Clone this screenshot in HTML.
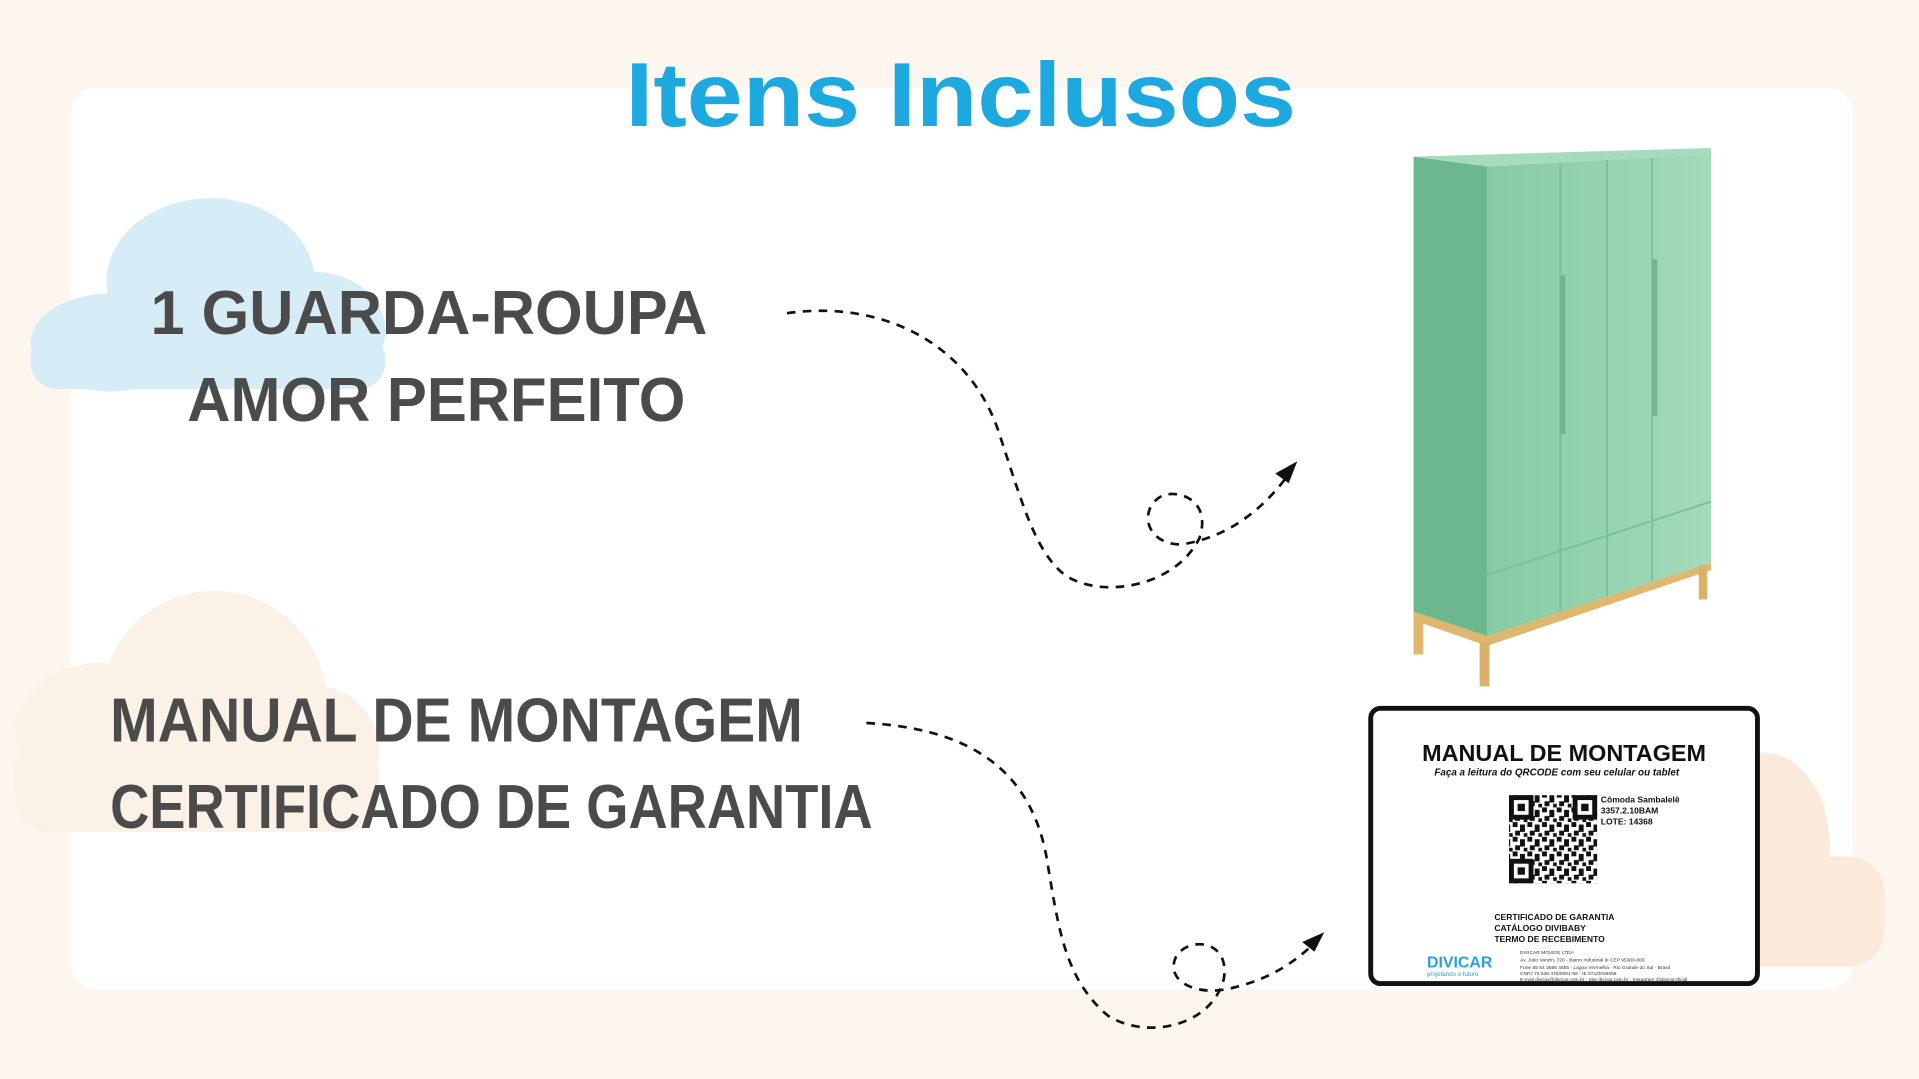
<!DOCTYPE html>
<html><head><meta charset="utf-8"><style>
html,body{margin:0;padding:0;background:#fdf6ef;}
svg{display:block}
</style></head><body>
<svg width="1919" height="1079" viewBox="0 0 1568 882" preserveAspectRatio="none" xmlns="http://www.w3.org/2000/svg">
<defs>
<pattern id="qr" x="0" y="0" width="12" height="12" patternUnits="userSpaceOnUse">
<rect width="12" height="12" fill="#fff"/>
<rect x="0" y="0" width="4" height="4" fill="#111"/>
<rect x="6" y="2" width="4" height="6" fill="#111"/>
<rect x="2" y="7" width="4" height="4" fill="#111"/>
<rect x="9" y="9" width="3" height="3" fill="#111"/>
</pattern>
<linearGradient id="front" x1="0" x2="1" y1="0" y2="0">
<stop offset="0" stop-color="#86cba3"/><stop offset="1" stop-color="#a3dabb"/>
</linearGradient>
</defs>
<rect width="1568" height="882" fill="#fdf6ef"/>
<rect x="58" y="72" width="1456" height="736" rx="20" fill="#ffffff"/>
<g fill="#d6edf8">
<ellipse cx="172" cy="230" rx="85" ry="68"/>
<ellipse cx="90" cy="280" rx="65" ry="40"/>
<ellipse cx="255" cy="270" rx="60" ry="48"/>
<rect x="25" y="272" width="290" height="46" rx="22"/>
</g>
<g fill="#fcf1e7">
<ellipse cx="175" cy="575" rx="92" ry="92"/>
<ellipse cx="80" cy="600" rx="68" ry="58"/>
<ellipse cx="255" cy="615" rx="55" ry="55"/>
<rect x="12" y="600" width="298" height="80" rx="30"/>
</g>
<g fill="#fbeadb">
<ellipse cx="1440" cy="690" rx="55" ry="75"/>
<ellipse cx="1500" cy="745" rx="40" ry="45"/>
<rect x="1400" y="700" width="140" height="90" rx="30"/>
</g>
<text x="785" y="103" text-anchor="middle" font-family="Liberation Sans, sans-serif" font-weight="bold" font-size="74" fill="#1da8e0" textLength="548" lengthAdjust="spacingAndGlyphs">Itens Inclusos</text>
<g font-family="Liberation Sans, sans-serif" font-weight="bold" font-size="51" fill="#4b4b4b">
<text x="123" y="273" textLength="455" lengthAdjust="spacingAndGlyphs">1 GUARDA-ROUPA</text>
<text x="153" y="344" textLength="407" lengthAdjust="spacingAndGlyphs">AMOR PERFEITO</text>
<text x="90" y="606" textLength="566" lengthAdjust="spacingAndGlyphs">MANUAL DE MONTAGEM</text>
<text x="90" y="677" textLength="623" lengthAdjust="spacingAndGlyphs">CERTIFICADO DE GARANTIA</text>
</g>
<g fill="none" stroke="#111" stroke-width="2.2" stroke-dasharray="7 6">
<path d="M643 256 C720 245 790 280 815 350 C835 410 845 450 870 470 C900 490 960 480 980 440 C990 410 965 400 950 405 C930 415 935 445 965 445 C1000 440 1030 420 1055 385"/>
<path d="M708 591 C780 595 840 620 855 700 C865 760 870 800 905 830 C935 850 990 840 1000 800 C1005 770 975 765 962 780 C950 800 975 815 1005 808 C1040 800 1060 785 1078 767"/>
</g>
<polygon points="1060,377 1042,387 1053,395" fill="#111"/>
<polygon points="1082,762 1064,770 1074,778" fill="#111"/>
<g>
<polygon points="1155,128 1215,136 1215,520 1155,500" fill="#6db78f"/>
<polygon points="1215,136 1398,126 1398,460 1215,520" fill="url(#front)"/>
<polygon points="1155,128 1398,121 1398,126 1215,136" fill="#a6dcbd"/>
<g stroke="#79bf98" stroke-width="1.5">
<line x1="1275" y1="134" x2="1275" y2="500"/>
<line x1="1313" y1="131" x2="1313" y2="488"/>
<line x1="1350" y1="129" x2="1350" y2="475"/>
<line x1="1215" y1="470" x2="1398" y2="410"/>
</g>
<rect x="1275" y="225" width="4" height="130" fill="#6fb48f"/>
<rect x="1350" y="212" width="4" height="128" fill="#6fb48f"/>
<polygon points="1155,500 1215,520 1398,460 1398,466 1215,528 1155,507" fill="#e0b76e"/>
<rect x="1155" y="505" width="8" height="30" fill="#e0b76e"/>
<rect x="1209" y="525" width="8" height="36" fill="#dcb06a"/>
<rect x="1388" y="462" width="7" height="28" fill="#dcb06a"/>
</g>
<rect x="1120" y="579" width="316" height="225" rx="8" fill="#fff" stroke="#111" stroke-width="4"/>
<text x="1278" y="622" text-anchor="middle" font-family="Liberation Sans, sans-serif" font-weight="bold" font-size="19" fill="#111" textLength="232" lengthAdjust="spacingAndGlyphs">MANUAL DE MONTAGEM</text>
<text x="1272" y="634" text-anchor="middle" font-family="Liberation Sans, sans-serif" font-weight="bold" font-style="italic" font-size="8.5" fill="#111" textLength="200" lengthAdjust="spacingAndGlyphs">Faça a leitura do QRCODE com seu celular ou tablet</text>
<g fill="#111">
<rect x="1233" y="650" width="72" height="72" fill="url(#qr)"/>
<rect x="1233" y="650" width="20" height="20"/><rect x="1237" y="654" width="12" height="12" fill="#fff"/><rect x="1240" y="657" width="6" height="6"/>
<rect x="1285" y="650" width="20" height="20"/><rect x="1289" y="654" width="12" height="12" fill="#fff"/><rect x="1292" y="657" width="6" height="6"/>
<rect x="1233" y="702" width="20" height="20"/><rect x="1237" y="706" width="12" height="12" fill="#fff"/><rect x="1240" y="709" width="6" height="6"/>
</g>
<g font-family="Liberation Sans, sans-serif" font-weight="bold" fill="#111">
<text x="1308" y="656" font-size="7">Cômoda Sambalelê</text>
<text x="1308" y="665" font-size="7">3357.2.10BAM</text>
<text x="1308" y="674" font-size="7">LOTE: 14368</text>
<text x="1221" y="752" font-size="7">CERTIFICADO DE GARANTIA</text>
<text x="1221" y="761" font-size="7">CATÁLOGO DIVIBABY</text>
<text x="1221" y="770" font-size="7">TERMO DE RECEBIMENTO</text>
<text x="1166" y="791" font-size="13" fill="#2aa0d8">DIVICAR</text>
<text x="1166" y="798" font-size="5" font-weight="normal" fill="#2aa0d8">projetando o futuro</text>
</g>
<g font-family="Liberation Sans, sans-serif" font-size="4" fill="#333">
<text x="1242" y="780">DIVICAR MÓVEIS LTDA</text>
<text x="1242" y="786">Av. Julio Vanzin, 720 - Bairro Industrial III CEP 95300-000</text>
<text x="1242" y="792">Fone 55 54 3688 4555 - Lagoa Vermelha · Rio Grande do Sul · Brasil</text>
<text x="1242" y="797">CNPJ 73.638.470/0001-59 · IE 071/0039656</text>
<text x="1242" y="802">E-mail divicar@divicar.com.br · Site divicar.com.br · Instagram @divicaroficial</text>
</g>
</svg>
</body></html>
